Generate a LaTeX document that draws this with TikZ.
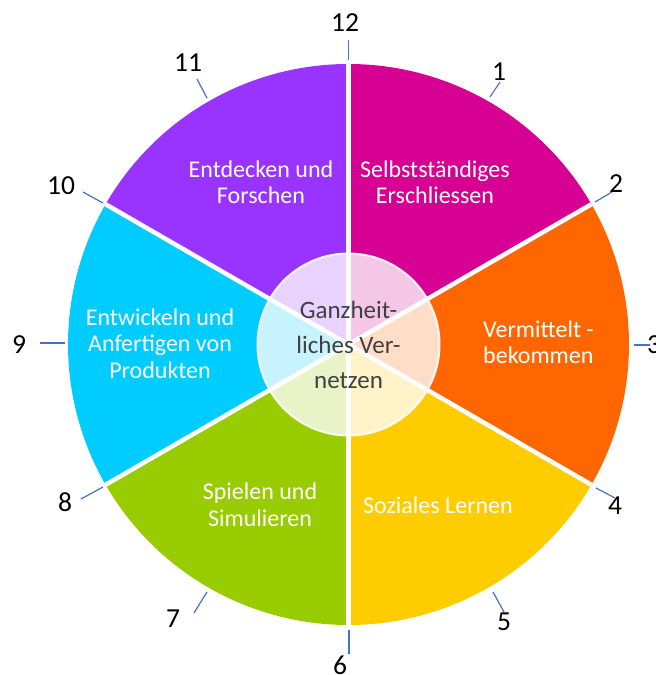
\documentclass[tikz,border=0pt]{standalone}
\usepackage{fontspec}
\setmainfont{Carlito}
\definecolor{cmag}{RGB}{214,0,147}
\definecolor{corange}{RGB}{255,102,0}
\definecolor{cyellow}{RGB}{255,204,0}
\definecolor{cgreen}{RGB}{153,204,0}
\definecolor{ccyan}{RGB}{0,204,255}
\definecolor{cpurple}{RGB}{153,51,255}
\definecolor{ctick}{RGB}{68,114,196}
\definecolor{ctext}{RGB}{64,64,64}
\begin{document}
\begin{tikzpicture}[x=1pt,y=1pt,
  sep/.style={draw=white,line width=4.5pt},
  tickline/.style={draw=ctick,line width=1.2pt},
  ticklabel/.style={inner sep=0pt,font=\fontsize{27.5}{30}\selectfont,text=black},
  seglabel/.style={inner sep=0pt,align=center,text=white,font=\fontsize{24}{26.5}\selectfont},
  hub/.style={fill=white,fill opacity=0.78,draw=white,draw opacity=0.9,line width=2pt}]
\useasboundingbox (0,0) rectangle (656,675);
\coordinate (C) at (348.5,330.5);
\def\R{280.5}
% sectors
\fill[cmag]    (C) -- ++(90:\R pt)  arc[start angle=90,  end angle=30,   radius=\R pt] -- cycle;
\fill[corange] (C) -- ++(30:\R pt)  arc[start angle=30,  end angle=-30,  radius=\R pt] -- cycle;
\fill[cyellow] (C) -- ++(-30:\R pt) arc[start angle=-30, end angle=-90,  radius=\R pt] -- cycle;
\fill[cgreen]  (C) -- ++(-90:\R pt) arc[start angle=-90, end angle=-150, radius=\R pt] -- cycle;
\fill[ccyan]   (C) -- ++(210:\R pt) arc[start angle=210, end angle=150,  radius=\R pt] -- cycle;
\fill[cpurple] (C) -- ++(150:\R pt) arc[start angle=150, end angle=90,   radius=\R pt] -- cycle;
% separators
\foreach \a in {90,30,-30,-90,-150,150}{
  \draw[sep] (C) -- ++(\a:\R pt);
}
% hub
\fill[hub] (C) circle[radius=91pt];
\node[inner sep=0pt,align=center,text=ctext,font=\fontsize{25}{35}\selectfont] (hubtext) at (348.5,330) {Ganzheit-\\liches Ver-\\netzen};
% sector labels
\node[seglabel] (s11) at (261,492.5) {Entdecken und\\Forschen};
\node[seglabel] (s1)  at (435,492.5) {Selbstständiges\\Erschliessen};
\node[seglabel,align=left,anchor=west] (s3) at (483,332.5) {Vermittelt -\\bekommen};
\node[seglabel] (s9)  at (160,331.5) {Entwickeln und\\Anfertigen von\\Produkten};
\node[seglabel] (s7)  at (260,170) {Spielen und\\Simulieren};
\node[seglabel] (s5)  at (438,169.5) {Soziales Lernen};
% tick marks
\coordinate (t12a) at (348.5,615); \coordinate (t12b) at (348.5,635);
\coordinate (t1a) at (490,578);  \coordinate (t1b) at (500,593);
\coordinate (t2a) at (595,473);  \coordinate (t2b) at (612,483);
\coordinate (t3a) at (634,330);  \coordinate (t3b) at (650,330);
\coordinate (t4a) at (596,187);  \coordinate (t4b) at (615,177);
\coordinate (t5a) at (493,83);   \coordinate (t5b) at (504,63);
\coordinate (t6a) at (349,45);   \coordinate (t6b) at (349,21);
\coordinate (t7a) at (207,83);   \coordinate (t7b) at (194,62);
\coordinate (t8a) at (103,188);  \coordinate (t8b) at (81,176);
\coordinate (t9a) at (65,332);   \coordinate (t9b) at (40,332);
\coordinate (t10a) at (103,472); \coordinate (t10b) at (83,483);
\coordinate (t11a) at (207,577); \coordinate (t11b) at (197,596);
\foreach \n in {12,1,2,3,4,5,6,7,8,9,10,11}{
  \draw[tickline] (t\n a) -- (t\n b);
}
% tick labels
\node[ticklabel] (n12) at (345,652.5) {12};
\node[ticklabel] (n1)  at (499,603)   {1};
\node[ticklabel] (n2)  at (616,491)   {2};
\node[ticklabel] (n3)  at (654,330)   {3};
\node[ticklabel] (n4)  at (615,169)   {4};
\node[ticklabel] (n5)  at (504,53)    {5};
\node[ticklabel] (n6)  at (340,9.5)   {6};
\node[ticklabel] (n7)  at (173,56)    {7};
\node[ticklabel] (n8)  at (65,173)    {8};
\node[ticklabel] (n9)  at (19,330)    {9};
\node[ticklabel] (n10) at (61,489)    {10};
\node[ticklabel] (n11) at (188,612.5) {11};
\end{tikzpicture}
\end{document}
